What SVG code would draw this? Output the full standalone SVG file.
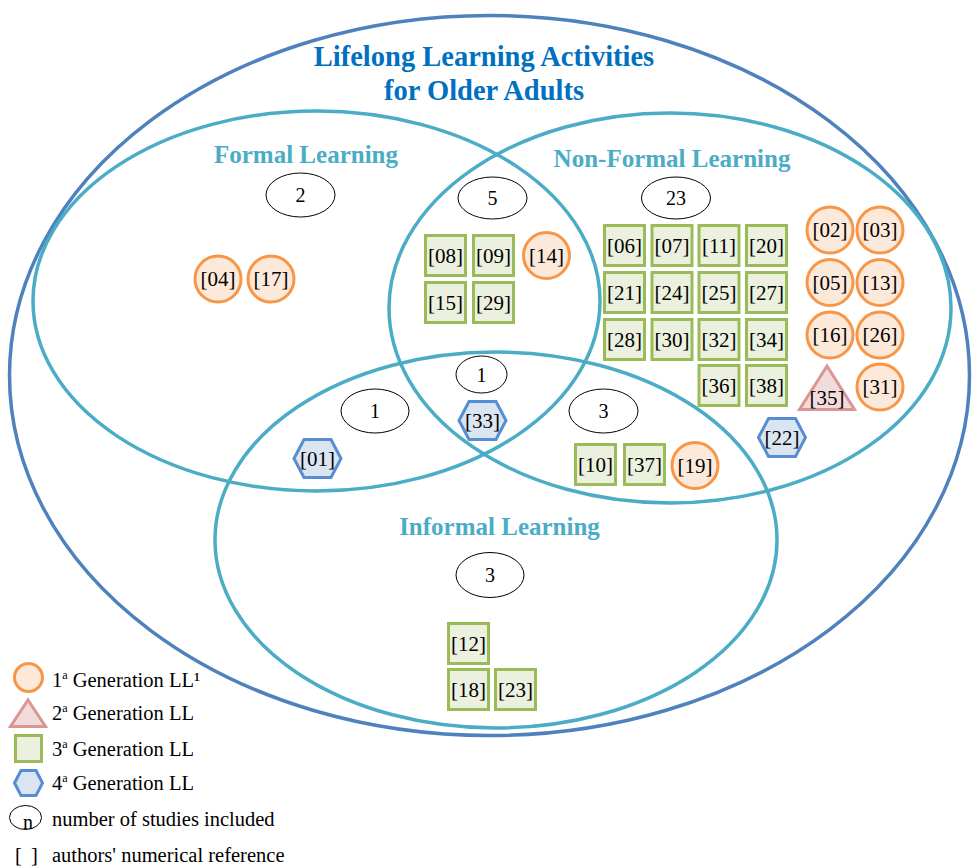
<svg xmlns="http://www.w3.org/2000/svg" width="972" height="866" viewBox="0 0 972 866">
<style>
.bg{fill:#ffffff}
.outer{fill:none;stroke:#4f81bd;stroke-width:3.5}
.set{fill:none;stroke:#4bacc6;stroke-width:3.5}
.title{font-family:"Liberation Serif","Times New Roman",serif;font-weight:bold;font-size:28.5px;fill:#0070c0;text-anchor:middle}
.sect{font-family:"Liberation Serif","Times New Roman",serif;font-weight:bold;font-size:25px;fill:#4bacc6;text-anchor:middle}
.cnt{fill:#ffffff;stroke:#000000;stroke-width:1}
.num{font-family:"Liberation Serif","Times New Roman",serif;font-size:20px;fill:#000;text-anchor:middle}
.lbl{font-family:"Liberation Serif","Times New Roman",serif;font-size:21px;fill:#000;text-anchor:middle}
.leg{font-family:"Liberation Serif","Times New Roman",serif;font-size:20.5px;fill:#000}
.g1{fill:#fde9d9;stroke:#f79646;stroke-width:3}
.g2{fill:#f2dcdb;stroke:#d99694;stroke-width:3}
.g3{fill:#ebf1de;stroke:#9bbb59;stroke-width:3}
.g4{fill:#dbe5f1;stroke:#558ed5;stroke-width:3}
</style>
<defs>
<path id="hex" d="M-23.5,0 L-13.5,-19 L13.5,-19 L23.5,0 L13.5,19 L-13.5,19 Z"/>
</defs>
<rect class="bg" x="0" y="0" width="972" height="866"/>

<g id="regions">
<ellipse id="outer" class="outer" cx="489.5" cy="375.5" rx="480" ry="360"/>
<ellipse id="formal" class="set" cx="316.5" cy="301" rx="283.5" ry="190"/>
<ellipse id="nonformal" class="set" cx="670" cy="308" rx="281" ry="195"/>
<ellipse id="informal" class="set" cx="496" cy="540" rx="281" ry="188"/>
</g>

<g id="titles">
<text class="title" x="484" y="66">Lifelong Learning Activities</text>
<text class="title" x="484" y="100">for Older Adults</text>
<text class="sect" x="306" y="163">Formal Learning</text>
<text class="sect" x="672" y="167">Non-Formal Learning</text>
<text class="sect" x="499.5" y="535">Informal Learning</text>
</g>

<g id="connectors"/>

<g id="counts">
<g id="c-formal"><ellipse class="cnt" cx="300.5" cy="195" rx="34.5" ry="22"/><text class="num" x="300.5" y="202">2</text></g>
<g id="c-fn"><ellipse class="cnt" cx="492.5" cy="198" rx="34.5" ry="21"/><text class="num" x="492.5" y="205">5</text></g>
<g id="c-nonformal"><ellipse class="cnt" cx="676" cy="198" rx="34.5" ry="21"/><text class="num" x="676" y="205">23</text></g>
<g id="c-all"><ellipse class="cnt" cx="481.5" cy="374.5" rx="25.5" ry="18.5"/><text class="num" x="481.5" y="381.5">1</text></g>
<g id="c-fi"><ellipse class="cnt" cx="375" cy="411" rx="34" ry="22"/><text class="num" x="375" y="418">1</text></g>
<g id="c-ni"><ellipse class="cnt" cx="603.5" cy="411" rx="34.5" ry="22"/><text class="num" x="603.5" y="418">3</text></g>
<g id="c-informal"><ellipse class="cnt" cx="490" cy="575" rx="34" ry="22.5"/><text class="num" x="490" y="582">3</text></g>
</g>

<g id="nodes">
<g id="n04"><circle class="g1" cx="218" cy="279" r="23"/><text class="lbl" x="218" y="286">[04]</text></g>
<g id="n17"><circle class="g1" cx="271" cy="279" r="23"/><text class="lbl" x="271" y="286">[17]</text></g>

<g id="n08"><rect class="g3" x="425.5" y="235.5" width="40" height="40"/><text class="lbl" x="445.5" y="263">[08]</text></g>
<g id="n09"><rect class="g3" x="473.5" y="235.5" width="40" height="40"/><text class="lbl" x="493.5" y="263">[09]</text></g>
<g id="n15"><rect class="g3" x="425.5" y="282.5" width="40" height="40"/><text class="lbl" x="445.5" y="310">[15]</text></g>
<g id="n29"><rect class="g3" x="473.5" y="282.5" width="40" height="40"/><text class="lbl" x="493.5" y="310">[29]</text></g>
<g id="n14"><circle class="g1" cx="546.5" cy="255.5" r="23"/><text class="lbl" x="546.5" y="262.5">[14]</text></g>

<g id="n06"><rect class="g3" x="604.5" y="225.5" width="40" height="40"/><text class="lbl" x="624.5" y="252.5">[06]</text></g>
<g id="n07"><rect class="g3" x="652" y="225.5" width="40" height="40"/><text class="lbl" x="672" y="252.5">[07]</text></g>
<g id="n11"><rect class="g3" x="699" y="225.5" width="40" height="40"/><text class="lbl" x="719" y="252.5">[11]</text></g>
<g id="n20"><rect class="g3" x="746.5" y="225.5" width="40" height="40"/><text class="lbl" x="766.5" y="252.5">[20]</text></g>
<g id="n21"><rect class="g3" x="604.5" y="272.5" width="40" height="40"/><text class="lbl" x="624.5" y="299.5">[21]</text></g>
<g id="n24"><rect class="g3" x="652" y="272.5" width="40" height="40"/><text class="lbl" x="672" y="299.5">[24]</text></g>
<g id="n25"><rect class="g3" x="699" y="272.5" width="40" height="40"/><text class="lbl" x="719" y="299.5">[25]</text></g>
<g id="n27"><rect class="g3" x="746.5" y="272.5" width="40" height="40"/><text class="lbl" x="766.5" y="299.5">[27]</text></g>
<g id="n28"><rect class="g3" x="604.5" y="319.5" width="40" height="40"/><text class="lbl" x="624.5" y="346.5">[28]</text></g>
<g id="n30"><rect class="g3" x="652" y="319.5" width="40" height="40"/><text class="lbl" x="672" y="346.5">[30]</text></g>
<g id="n32"><rect class="g3" x="699" y="319.5" width="40" height="40"/><text class="lbl" x="719" y="346.5">[32]</text></g>
<g id="n34"><rect class="g3" x="746.5" y="319.5" width="40" height="40"/><text class="lbl" x="766.5" y="346.5">[34]</text></g>
<g id="n36"><rect class="g3" x="699" y="365.5" width="40" height="40"/><text class="lbl" x="719" y="392.5">[36]</text></g>
<g id="n38"><rect class="g3" x="746.5" y="365.5" width="40" height="40"/><text class="lbl" x="766.5" y="392.5">[38]</text></g>

<g id="n02"><circle class="g1" cx="830" cy="230" r="23"/><text class="lbl" x="830" y="237">[02]</text></g>
<g id="n03"><circle class="g1" cx="880" cy="230" r="23"/><text class="lbl" x="880" y="237">[03]</text></g>
<g id="n05"><circle class="g1" cx="830" cy="282.5" r="23"/><text class="lbl" x="830" y="289.5">[05]</text></g>
<g id="n13"><circle class="g1" cx="880" cy="282.5" r="23"/><text class="lbl" x="880" y="289.5">[13]</text></g>
<g id="n16"><circle class="g1" cx="830" cy="335" r="23"/><text class="lbl" x="830" y="342">[16]</text></g>
<g id="n26"><circle class="g1" cx="880" cy="335" r="23"/><text class="lbl" x="880" y="342">[26]</text></g>
<g id="n31"><circle class="g1" cx="880" cy="387" r="23"/><text class="lbl" x="880" y="394">[31]</text></g>
<g id="n35"><polygon class="g2" points="827,366 854.5,409.5 799.5,409.5"/><text class="lbl" x="827" y="405">[35]</text></g>
<g id="n22"><use href="#hex" class="g4" x="782" y="437.5"/><text class="lbl" x="782" y="444.5">[22]</text></g>

<g id="n33"><use href="#hex" class="g4" x="482.5" y="420.5"/><text class="lbl" x="482.5" y="427.5">[33]</text></g>
<g id="n01"><use href="#hex" class="g4" x="317.5" y="458.5"/><text class="lbl" x="317.5" y="465.5">[01]</text></g>

<g id="n10"><rect class="g3" x="575.5" y="444.5" width="40" height="40"/><text class="lbl" x="595.5" y="472">[10]</text></g>
<g id="n37"><rect class="g3" x="624.5" y="444.5" width="40" height="40"/><text class="lbl" x="644.5" y="472">[37]</text></g>
<g id="n19"><circle class="g1" cx="695" cy="465.5" r="23"/><text class="lbl" x="695" y="472.5">[19]</text></g>

<g id="n12"><rect class="g3" x="448.5" y="623.5" width="40" height="40"/><text class="lbl" x="468.5" y="651">[12]</text></g>
<g id="n18"><rect class="g3" x="448.5" y="669.5" width="40" height="40"/><text class="lbl" x="468.5" y="697">[18]</text></g>
<g id="n23"><rect class="g3" x="495.5" y="669.5" width="40" height="40"/><text class="lbl" x="515.5" y="697">[23]</text></g>
</g>

<g id="legend">
<g id="leg1"><circle class="g1" cx="28.5" cy="677.5" r="14"/><text class="leg" x="52" y="687">1<tspan font-size="12" dy="-8">a</tspan><tspan dy="8"> Generation LL¹</tspan></text></g>
<g id="leg2"><polygon class="g2" points="28,700 45.5,726.5 10.5,726.5"/><text class="leg" x="52" y="720">2<tspan font-size="12" dy="-8">a</tspan><tspan dy="8"> Generation LL</tspan></text></g>
<g id="leg3"><rect class="g3" x="15.5" y="735.5" width="26" height="26"/><text class="leg" x="52" y="756">3<tspan font-size="12" dy="-8">a</tspan><tspan dy="8"> Generation LL</tspan></text></g>
<g id="leg4"><path class="g4" d="M14.5,783 L21,770.5 L36,770.5 L42.5,783 L36,795.5 L21,795.5 Z"/><text class="leg" x="52" y="790">4<tspan font-size="12" dy="-8">a</tspan><tspan dy="8"> Generation LL</tspan></text></g>
<g id="leg5"><ellipse class="cnt" cx="25.5" cy="817.5" rx="16" ry="12"/><text class="num" x="28" y="829">n</text><text class="leg" x="52" y="826">number of studies included</text></g>
<g id="leg6"><text class="leg" x="15" y="862" letter-spacing="2">[ ]</text><text class="leg" x="52" y="862">authors' numerical reference</text></g>
</g>
</svg>
